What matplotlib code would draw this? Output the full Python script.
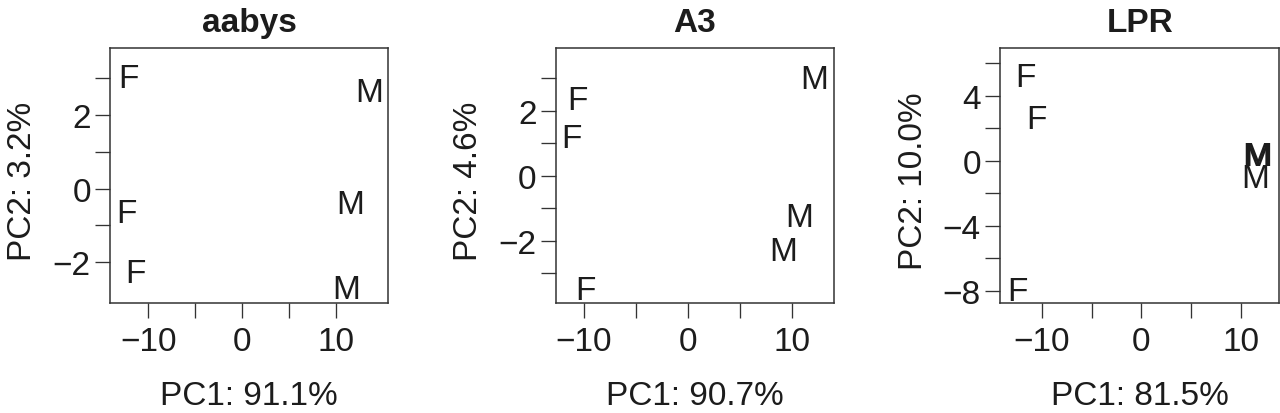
import matplotlib
matplotlib.use("Agg")
import matplotlib.pyplot as plt
from matplotlib.ticker import FixedLocator

plt.rcParams['font.family'] = ['Liberation Sans', 'DejaVu Sans']

# ---- data ----
titles = ["aabys", "A3", "LPR"]
xlabels = ["PC1: 91.1%", "PC1: 90.7%", "PC1: 81.5%"]
ylabels = ["PC2: 3.2%", "PC2: 4.6%", "PC2: 10.0%"]

labels_aabys = ["F", "M", "F", "M", "F", "M"]
pc1_aabys = [-12.14, 13.58, -12.31, 11.52, -11.41, 11.06]
pc2_aabys = [3.08, 2.72, -0.59, -0.33, -2.20, -2.66]

labels_a3 = ["M", "F", "F", "M", "M", "F"]
pc1_a3 = [12.14, -10.62, -11.16, 10.70, 9.17, -9.88]
pc2_a3 = [3.08, 2.41, 1.25, -1.17, -2.22, -3.43]

labels_lpr = ["F", "F", "M", "M", "M", "F"]
pc1_lpr = [-11.59, -10.55, 11.50, 11.75, 11.45, -12.46]
pc2_lpr = [5.33, 2.74, 0.45, 0.45, -0.89, -7.81]

xlims = [(-14.09, 15.54), (-12.71, 14.03), (-14.18, 13.84)]
ylims = [(-3.11, 3.82), (-3.92, 3.92), (-8.76, 6.92)]
xmajor = [-10, 0, 10]
xminor = [-5, 5]
ymajors = [[-2, 0, 2], [-2, 0, 2], [-8, -4, 0, 4]]
yminors = [[-1, 1, 3], [-3, -1, 1, 3], [-6, -2, 2, 6]]

panels = [(labels_aabys, pc1_aabys, pc2_aabys),
          (labels_a3, pc1_a3, pc2_a3),
          (labels_lpr, pc1_lpr, pc2_lpr)]

W, H = 1280, 414
fig = plt.figure(figsize=(W / 100, H / 100), dpi=100)

lefts_px = [110, 555.7, 1000]
widths_px = [278, 278.6, 279.3]
top_px, bottom_px = 49.3, 304

FS = 24
TXT = '#1c1c1c'
LINE = '#333333'

for i in range(3):
    l = lefts_px[i] / W
    w = widths_px[i] / W
    b = (H - bottom_px) / H
    h = (bottom_px - top_px) / H
    ax = fig.add_axes([l, b, w, h])
    labs, xs, ys = panels[i]
    for s, x, y in zip(labs, xs, ys):
        ax.text(x, y, s, ha='center', va='center_baseline', fontsize=FS, color=TXT)
    ax.set_xlim(*xlims[i])
    ax.set_ylim(*ylims[i])
    ax.xaxis.set_major_locator(FixedLocator(xmajor))
    ax.xaxis.set_minor_locator(FixedLocator(xminor))
    ax.yaxis.set_major_locator(FixedLocator(ymajors[i]))
    ax.yaxis.set_minor_locator(FixedLocator(yminors[i]))
    ax.tick_params(axis='both', which='both', direction='out', length=10.8,
                   width=0.95, color=LINE, labelcolor=TXT, labelsize=FS)
    ax.tick_params(axis='x', which='major', pad=5.5)
    ax.tick_params(axis='y', which='major', pad=3.0)
    for sp in ax.spines.values():
        sp.set_linewidth(1.1)
        sp.set_color(LINE)
    ax.set_title(titles[i], fontsize=FS, fontweight='bold', color=TXT, pad=12.7)
    ax.set_xlabel(xlabels[i], fontsize=FS, color=TXT, va='baseline')
    ax.xaxis.set_label_coords(0.5, -(405 - bottom_px) / (bottom_px - top_px))
    ax.set_ylabel(ylabels[i], fontsize=FS, color=TXT, va='baseline')
    ax.yaxis.set_label_coords(-78.5 / widths_px[i], (bottom_px - 181) / (bottom_px - top_px))

fig.savefig("out.png", dpi=100)
